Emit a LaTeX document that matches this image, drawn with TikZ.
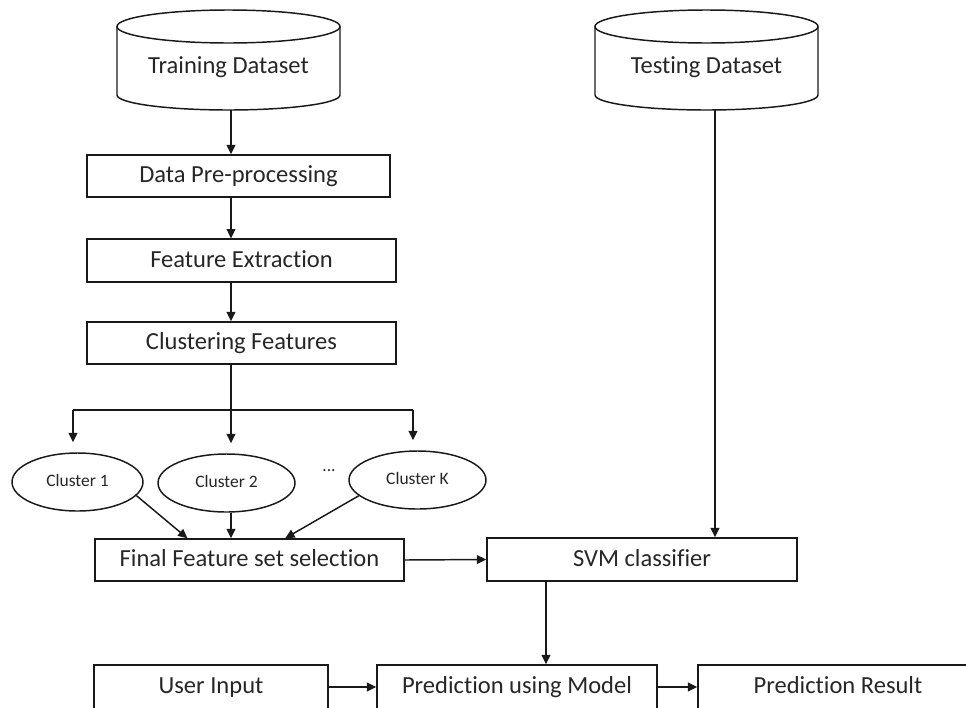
\documentclass[tikz,border=0pt]{standalone}
\usepackage{fontspec}
\setmainfont{Carlito}[Ligatures=NoCommon]
\usetikzlibrary{arrows.meta,shapes.geometric,calc}
\begin{document}
\begin{tikzpicture}[x=0.75pt,y=-0.75pt,
  ln/.style={draw=black!90, line width=1.1pt},
  arr/.style={ln, -{Triangle[length=7pt,width=6.5pt]}},
  bigtext/.style={font=\fontsize{18.4}{22}\selectfont, text=black!85, text height=13.5pt, text depth=3.5pt},
  box/.style={ln, rectangle, inner sep=0pt, bigtext},
  clus/.style={ln, ellipse, inner sep=0pt, font=\fontsize{13.1}{16}\selectfont, text=black!85, text height=9.5pt, text depth=2.5pt},
  dbtext/.style={inner sep=0pt, bigtext, minimum width=167.25pt, minimum height=64.5pt}]
\useasboundingbox (0,0) rectangle (966,707);
\clip (0,0) rectangle (966,707);

% cylinders
\draw[ln] (228.5,26.5) ellipse [x radius=83.625pt, y radius=12.375pt];
\draw[ln] (117,26.5) -- (117,95) arc[start angle=180, end angle=360, x radius=83.625pt, y radius=11.25pt] -- (340,26.5);
\draw[ln] (706.5,26.5) ellipse [x radius=83.625pt, y radius=12.375pt];
\draw[ln] (595,26.5) -- (595,95) arc[start angle=180, end angle=360, x radius=83.625pt, y radius=11.25pt] -- (818,26.5);
\node[dbtext] (train) at (228.5,67) {Training Dataset};
\node[dbtext] (test) at (706.5,67) {Testing Dataset};

% boxes
\node[box, minimum width=227.25pt, minimum height=31.5pt] (pre) at (238.5,176) {Data Pre-processing};
\node[box, minimum width=231.75pt, minimum height=32pt] (fe) at (241.5,260.5) {Feature Extraction};
\node[box, minimum width=231.75pt, minimum height=31.5pt] (cf) at (241.5,343) {Clustering Features};

\node[clus, minimum width=98.25pt, minimum height=43.5pt] (c1) at (77.5,482) {Cluster 1};
\node[clus, minimum width=102.75pt, minimum height=43.5pt] (c2) at (226.5,483) {Cluster 2};
\node[clus, minimum width=102.75pt, minimum height=43.5pt] (cK) at (417.5,480) {Cluster K};
\node[inner sep=0pt, font=\fontsize{13.1}{16}\selectfont, text=black!85] (dots) at (329,471) {...};

\node[box, minimum width=231.75pt, minimum height=31.5pt] (final) at (249.5,560) {Final Feature set selection};
\node[box, minimum width=232.5pt, minimum height=32.25pt] (svm) at (642,559.5) {SVM classifier};

\node[box, minimum width=175.5pt, minimum height=33pt] (user) at (211,687) {User Input};
\node[box, minimum width=210pt, minimum height=33pt] (pum) at (517,687) {Prediction using Model};
\node[box, minimum width=210pt, minimum height=33pt] (res) at (838,687) {Prediction Result};

% helper coordinates
\coordinate (sp) at (231,0);
\coordinate (tx) at (715,0);
\coordinate (sx) at (546,0);
\coordinate (bL) at (73,410);
\coordinate (bM) at (231,410);
\coordinate (bR) at (413,410);

% connectors
\draw[arr] (train.south -| sp) -- (pre.north -| sp);
\draw[arr] (pre.south -| sp) -- (fe.north -| sp);
\draw[arr] (fe.south -| sp) -- (cf.north -| sp);
\draw[ln] (cf.south -| sp) -- (bM);
\draw[ln] (bL) -- (bR);
\draw[arr, shorten >=7.5pt] (bL) -- (bL |- c1.north);
\draw[arr, shorten >=7.5pt] (bM) -- (bM |- c2.north);
\draw[arr, shorten >=7.5pt] (bR) -- (bR |- cK.north);
\draw[arr] (c1.-13) -- ($(final.north west)!0.30!(final.north east)$);
\draw[arr] (c2.south -| sp) -- (final.north -| sp);
\draw[arr] (cK.195) -- ($(final.north west)!0.615!(final.north east)$);
\draw[arr] (final.east) -- (svm.west);
\draw[arr] (test.south -| tx) -- (svm.north -| tx);
\draw[arr] (svm.south -| sx) -- (pum.north -| sx);
\draw[arr] (user.east) -- (pum.west);
\draw[arr] (pum.east) -- (res.west);
\end{tikzpicture}
\end{document}
